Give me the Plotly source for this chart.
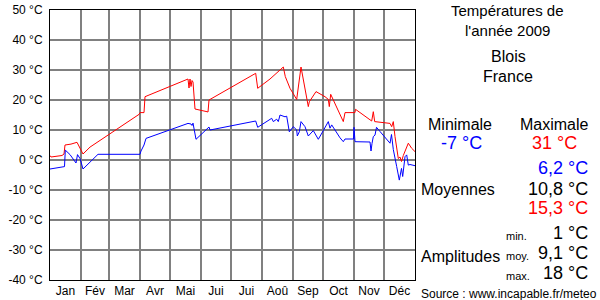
import plotly.graph_objects as go

# ---- data (day of year 2009, temperature °C) ----
month_labels = ["Jan", "Fév", "Mar", "Avr", "Mai", "Jui", "Jui", "Aoû", "Sep", "Oct", "Nov", "Déc"]
month_lengths = [31, 28, 31, 30, 31, 30, 31, 31, 30, 31, 30, 31]

max_days = [0, 1, 12, 14, 15, 21, 27, 31, 33, 40, 47, 89, 90, 94, 95, 138, 139, 140, 141, 142, 143,
            145, 157, 158, 159, 205.7, 207.7, 220, 233.3, 235.3, 240, 246.7, 251, 253.3, 258.3, 259.3,
            266, 275, 278.3, 279.3, 280.7, 293.3, 295, 305, 305.5, 321.7, 323.3, 324.7, 340, 341.7,
            343.3, 345, 348.3, 350, 351.5, 353.3, 358.3, 361.7, 365]
max_temps = [1.5, 1.0, 1.5, 2.0, 5.0, 5.3, 5.9, 3.5, 2.0, 4.3, 5.9, 15.2, 15.8, 15.8, 21.1, 27.0, 24.0,
             27.0, 24.5, 26.5, 26.0, 17.0, 16.1, 16.0, 20.0, 28.9, 23.9, 27.0, 31.0, 27.8, 23.9, 20.2,
             31.0, 26.7, 17.8, 19.4, 22.8, 21.1, 20.2, 17.8, 21.9, 12.8, 15.8, 15.8, 16.9, 13.0, 16.1,
             12.8, 12.2, 11.1, 12.8, 7.8, 0.5, 1.0, -0.5, 1.5, 5.6, 3.9, 2.8]

min_days = [0, 14.5, 15.3, 20, 26, 27.5, 30, 33, 48, 90, 91, 94, 96, 138, 141, 142, 143, 145, 146,
            159, 160, 205.7, 207.7, 221.7, 223.3, 226.7, 228.3, 230, 235, 236.7, 239.3, 240.7, 243.3,
            246.7, 247.3, 249.3, 251, 255, 258.3, 263.3, 268.3, 273.3, 278.3, 280, 281.7, 290, 293.3,
            295, 303.5, 304, 305, 320, 321, 322, 323.3, 325, 326.5, 330, 340, 341.5, 343.3, 346.7,
            349.3, 351.5, 352.7, 355, 356.7, 358.3, 360, 365]
min_temps = [-3.0, -2.2, 3.3, 1.8, -1.0, 1.8, 0.5, -3.0, 1.9, 1.9, 3.0, 5.0, 7.2, 12.2, 12.0, 11.5,
             12.3, 9.4, 6.9, 11.0, 10.0, 13.0, 10.9, 13.9, 12.8, 13.6, 12.8, 15.0, 14.4, 14.6, 9.4, 10.0,
             11.1, 10.0, 8.0, 9.4, 12.8, 11.1, 8.0, 9.8, 6.9, 9.8, 12.8, 10.6, 11.7, 7.4, 6.1, 7.0, 7.0,
             10.9, 6.1, 6.0, 3.0, 5.5, 7.8, 8.3, 10.9, 9.5, 5.6, 8.5, 3.5, -2.2, -6.7, -2.8, -5.5, 1.1,
             1.7, -1.7, -1.5, -1.9]

y_ticks = [-40, -30, -20, -10, 0, 10, 20, 30, 40, 50]
y_ticktext = [f"{v} °C" for v in y_ticks]

stats_min_max = ["-7 °C", "31 °C"]
stats_moyennes = ["6,2 °C", "10,8 °C", "15,3 °C"]
stats_amplitudes = ["1 °C", "9,1 °C", "18 °C"]
ampl_labels = ["min.", "moy.", "max."]

# ---- derived axis helpers ----
month_starts = [sum(month_lengths[:i]) for i in range(12)]
month_mids = [s + l / 2 for s, l in zip(month_starts, month_lengths)]

FONT = "Liberation Sans, Arial, sans-serif"
W, H = 600, 300
L, R, T, B = 50, 185, 10, 20


def px(xp):
    return (xp - L) / (W - L - R)


def py(yp):
    return (H - B - yp) / (H - T - B)


fig = go.Figure()
fig.add_trace(go.Scatter(x=max_days, y=max_temps, mode="lines",
                         line=dict(color="#ff0000", width=1), hoverinfo="skip"))
fig.add_trace(go.Scatter(x=min_days, y=min_temps, mode="lines",
                         line=dict(color="#0000ff", width=1), hoverinfo="skip"))

ann = []


def add(text, x, y, size, color="black", xanchor="center"):
    ann.append(dict(text=text, x=px(x), y=py(y), xref="paper", yref="paper",
                    xanchor=xanchor, yanchor="middle", showarrow=False,
                    font=dict(family=FONT, size=size, color=color)))


add("Températures de", 507, 10, 15)
add("l'année 2009", 507, 30, 15)
add("Blois", 508, 56, 16)
add("France", 508, 76, 16)
add("Minimale", 460, 124, 16)
add("Maximale", 554, 124, 16)
add(stats_min_max[0], 461, 143, 18, "#0000ff")
add(stats_min_max[1], 554, 143, 18, "#ff0000")
for txt, yy, col in zip(stats_moyennes, [168, 189, 208], ["#0000ff", "black", "#ff0000"]):
    add(txt, 590, yy, 18, col, "right")
add("Moyennes", 419, 189, 16, xanchor="left")
for txt, lab, yy in zip(stats_amplitudes, ampl_labels, [233, 253, 273]):
    add(txt, 590, yy, 18, xanchor="right")
    add(lab, 504, yy + 3, 11, xanchor="left")
add("Amplitudes", 419, 256, 16, xanchor="left")
add("Source : www.incapable.fr/meteo", 419, 294, 12, xanchor="left")

fig.update_layout(
    width=W, height=H,
    margin=dict(l=L, r=R, t=T, b=B, pad=0, autoexpand=False),
    paper_bgcolor="white", plot_bgcolor="white",
    showlegend=False,
    annotations=ann,
    font=dict(family=FONT, size=12, color="black"),
    xaxis=dict(range=[0, 365], tickmode="array", tickvals=month_mids, ticktext=month_labels,
               showgrid=False, zeroline=False, ticks="", ticklabelstandoff=0, automargin=False,
               showline=True, linecolor="black", linewidth=1, mirror=True,
               minor=dict(tickmode="array", tickvals=month_starts[1:], showgrid=True,
                          gridcolor="#808080", gridwidth=2, ticks=""),
               tickfont=dict(family=FONT, size=12, color="black")),
    yaxis=dict(range=[-40, 50], tickmode="array", tickvals=y_ticks, ticktext=y_ticktext,
               showgrid=True, gridcolor="#808080", gridwidth=2, zeroline=False, ticks="",
               ticklabelstandoff=4, automargin=False,
               showline=True, linecolor="black", linewidth=1, mirror=True,
               tickfont=dict(family=FONT, size=12, color="black")),
)

fig.write_html("out.html")
